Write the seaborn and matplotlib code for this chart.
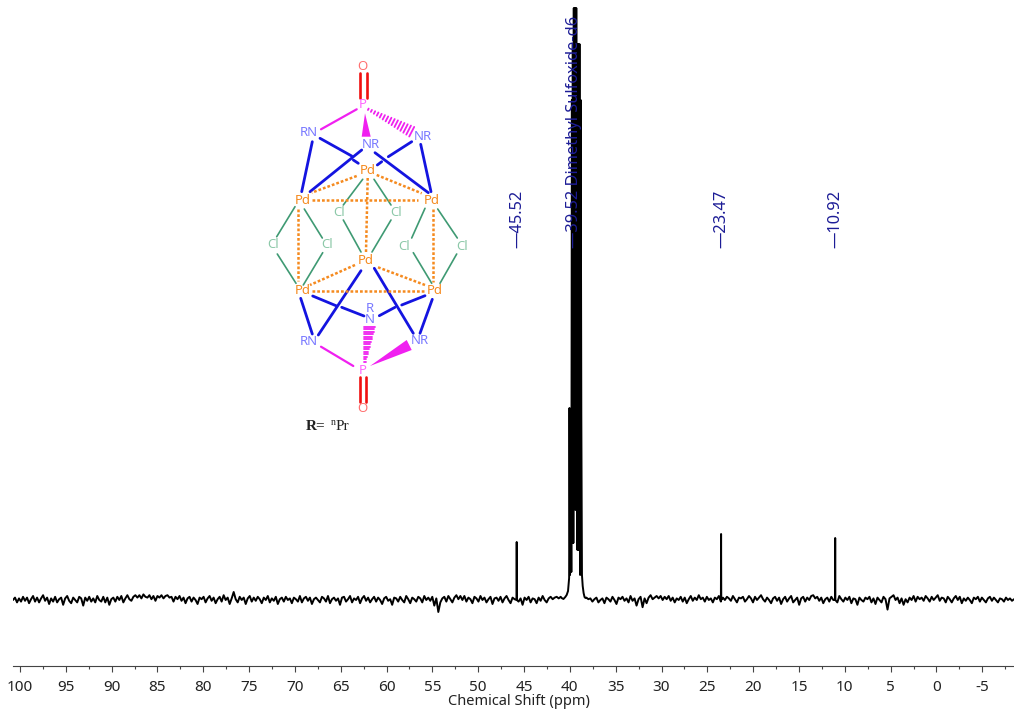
import matplotlib
matplotlib.use("Agg")
import matplotlib.pyplot as plt
import numpy as np
import pandas as pd
import seaborn as sns
from matplotlib.ticker import MultipleLocator

# baseline, 1 unit = 0.8 px
noise_unit = 0.8
left_noise = [
    0, 3, -3, 2, -2, 4, -1, 3, -4, 1, 5, -2, 3, -3, 2, 6, -1, 3, -5, 2,
    -2, 4, -3, 1, 3, -6, 2, 5, -1, -4, 3, 0, -3, 4, 2, -7, 3, -1, 4, -2,
    2, -3, 5, 0, -2, 4, -3, 3, -6, 1, 3, -2, 4, 0, 5, -3, 2, 6, 1, -1,
    4, 6, 3, 6, 2, 7, 4, 3, 6, 1, 5, -1, 5, 3, 6, 2, 5, 6, 3, 4,
    -2, 4, 1, 5, -1, 3, -4, 2, 4, -2, 3, 0, -5, 3, 1, 4, -3, 2, 5, -1,
    3, -4, 1, 4, -2, 6, 0, 3, -5, 2, 10, 1, -3, 4, 0, 3, -5, 2, 5, -2,
    3, -1, 4, 1, -4, 3, 0, 5, -3, 2, -1, 4, -5, 1, 3, -2, 4, 0, 2, -4,
    3, 1, -2, 5, -3, 2, 4, -1, 3, -5, 1, 3, 0, -3, 4, 2, -2, 5, -4, 1,
    3, -1, 2, -6, 3, 4, -2, 1, 5, -3, 2, 0, 4, -4, 2, 5, -1, 3, -3, 1,
    4, -2, 3, 0, -5, 2, 4, -1, 1, -6, 3, 2, -2, 4, 0, -3, 5, 1, -4, 3,
    1, -2, 4, 2, -3, 5, 0, 3, -1, 4, -7, 2, -15, -3, 2, 4, -2, 5, 1, -3,
    3, 6, 1, 5, 0, 5, -2, 3, 1, -4, 4, 2, -2, 5, 0, 3, -3, 1, 4, -5,
    2, 3, -1, 4, -3, 2, 5, 0, -4, 3, 1, 4, -2, 2, -6, 3, 0, 4, -3, 2,
    1, -4, 3, -1, 5, 0, -3, 2, 4, 1, 3, 4, 2, 4,
]
right_noise = [
    3, 1, 2, -2, 1, 3, -3, 0, 2, -4, 3, 1, -2, 4, 0, -5, 3, 1, 4, -1,
    2, -3, 5, -1, 2, -7, 1, 4, -9, 2, -4, 3, 6, 1, 3, 5, 2, 5, 0, 4,
    1, 5, -1, 3, -3, 2, 0, 4, -2, 3, -4, 1, 5, -1, 3, 0, 6, 1, 3, -2,
    4, 0, 2, -3, 3, 1, 5, -2, 3, 0, 4, 2, -1, 5, 1, -3, 3, 2, 4, -2,
    1, 5, 2, -3, 4, 0, 3, 6, 1, -2, 3, 0, -4, 2, 4, -1, 3, -5, 1, 4,
    -2, 2, 5, -3, 0, 3, -6, 2, 4, -2, 3, 0, 5, 6, 2, 4, -1, 3, -4, 1,
    3, -2, 4, 0, 2, -3, 5, 1, -2, 3, 0, 4, -4, 2, 1, -6, 3, 0, -2, 3,
    1, 4, -3, 2, -5, 3, 0, -3, 4, 1, -12, 2, 4, 6, 0, 3, -4, 2, -6, 1,
    -3, 3, 0, 5, -2, 4, 1, 3, -1, 5, 2, -2, 4, 0, 3, 6, -1, 3, 2, -3,
    4, 1, -3, 2, 5, 0, 4, -4, 2, -1, 3, 0, -4, 3, 1, 4, -2, 3, 0, -3,
    2, 4, -1, 3, 0, -3, 2, 1, -2, 3, 0, 2, -1, 1,
]
# DMSO multiplet outline
dmso_ppm = [40.9, 40.7, 40.5, 40.35, 40.2, 40.08, 40.04, 39.98, 39.90, 39.84, 39.78, 39.72,
            39.68, 39.62, 39.57, 39.53, 39.45, 39.38, 39.30, 39.22, 39.17, 39.10, 39.03,
            38.95, 38.88, 38.82, 38.75, 38.68, 38.60, 38.50, 38.40, 38.30]
dmso_int = [2, 1, 3, 5, 9, 22, 192, 25, 190, 28, 500, 57,
            556, 57, 592, 100, 592, 90, 592, 100, 50, 556, 50,
            556, 25, 500, 184, 25, 14, 7, 3, 2]
# small sticks
peak_ppm = [45.8, 23.5, 11.05]
peak_int = [58, 66, 62]
# assignment labels
label_ppm = [45.7, 39.5, 23.5, 10.98]
label_text = ["—45.52", "—39.52 Dimethyl Sulfoxide-d6", "—23.47", "—10.92"]

ppm = list(np.linspace(100.76, 41.0, len(left_noise))) + dmso_ppm + list(np.linspace(38.2, -8.46, len(right_noise)))
intensity = [v * noise_unit for v in left_noise] + dmso_int + [v * noise_unit for v in right_noise]
for p, h in zip(peak_ppm, peak_int):
    ppm += [p + 0.02, p, p - 0.02]
    intensity += [0, h, 0]
df = pd.DataFrame({"ppm": ppm, "intensity": intensity}).sort_values("ppm", ascending=False)

sns.set_style("white")
plt.rcParams["font.family"] = ["Noto Sans", "DejaVu Sans"]

fig = plt.figure(figsize=(10.14, 7.11), dpi=100)
ax = fig.add_axes([13 / 1014, 45 / 711, 1001 / 1014, 666 / 711])
sns.lineplot(data=df, x="ppm", y="intensity", estimator=None, sort=False, color="black", lw=1.4, ax=ax)
ax.set_xlim(100.76, -8.46)
ax.set_ylim(-66, 600)
ax.set_yticks([])
ax.set_ylabel("")
sns.despine(ax=ax, left=True)
ax.spines["bottom"].set_color("#444444")
ax.spines["bottom"].set_linewidth(0.8)
ax.xaxis.set_major_locator(MultipleLocator(5))
ax.xaxis.set_minor_locator(MultipleLocator(2.5))
ax.tick_params(axis="x", which="major", bottom=True, length=4.5, width=0.8, color="#444444", labelsize=11, labelcolor="#222222", pad=5.5)
ax.tick_params(axis="x", which="minor", bottom=True, length=2.2, width=0.8, color="#444444")
ax.set_xticks(np.arange(-5, 101, 5))
ax.set_xticklabels([str(v) for v in np.arange(-5, 101, 5)])
ax.set_xlabel("Chemical Shift (ppm)", fontsize=10.5, color="#222222")
ax.xaxis.set_label_coords((519 - 13) / 1001, -28 / 666)

for p, t in zip(label_ppm, label_text):
    ax.text(p, 352, t, rotation=90, ha="center", va="bottom", color="#1c1c96", fontsize=11.8, zorder=5)

# structure drawn in pixel coordinates
mol = fig.add_axes([0, 0, 1, 1], facecolor="none")
mol.set_xlim(0, 1014)
mol.set_ylim(711, 0)
mol.axis("off")

red = [(360, 73, 360, 97.5), (366.5, 73, 366.5, 97.5), (360, 377, 360, 402), (366, 377, 366, 402)]
pink = [(356.7, 109.3, 321, 129.3), (321, 346.7, 353.3, 366)]
blue = [(312.3, 141.7, 301.7, 191.7), (320, 138.3, 351.7, 156), (353.3, 160, 358.3, 163.3),
        (375, 152.7, 428.3, 192.7), (361.7, 150, 310, 191.7), (411.7, 141.7, 388.3, 156.7),
        (381.7, 161.7, 377.3, 165), (420.7, 144.3, 431, 191.7),
        (300.7, 298.3, 312.3, 334), (361, 270.7, 318.3, 335), (374.3, 268.3, 413.3, 333.3),
        (432.3, 299.3, 420, 333.3), (312.7, 296, 336.7, 306), (341.7, 307.3, 364, 316),
        (425, 295.7, 401.7, 305), (395, 307.3, 379.3, 315.7)]
green = [(362.7, 179.3, 343.3, 205), (374, 179.3, 391, 205), (343.3, 220, 361, 252), (391, 220, 372, 252),
         (295, 206.7, 276.7, 236.7), (304.3, 209, 322.3, 238), (425, 208.3, 411.7, 238), (437.7, 209, 457.3, 238),
         (277.3, 254, 296, 283.3), (322.7, 252.7, 303.3, 285), (413.3, 252.7, 431.7, 283.3), (456.7, 254, 440, 283.3)]
orange = [(356.7, 176, 311.7, 192.7), (376.7, 175, 421.7, 193.3), (311.7, 200, 418.3, 200), (367.7, 178, 366, 252),
          (298.3, 209, 298.3, 281), (432.7, 209, 432.7, 282), (355, 265, 310, 285), (378, 267.3, 425, 285),
          (311.7, 290.7, 425, 290.7)]

for seg in red:
    mol.plot(seg[0::2], seg[1::2], color="#f01010", lw=1.9)
for seg in pink:
    mol.plot(seg[0::2], seg[1::2], color="#f020f0", lw=1.6)
for seg in blue:
    mol.plot(seg[0::2], seg[1::2], color="#1414e0", lw=2.0)
for seg in green:
    mol.plot(seg[0::2], seg[1::2], color="#3f9a73", lw=1.2)
for seg in orange:
    mol.plot(seg[0::2], seg[1::2], color="#f58a1f", lw=1.8, ls=(0, (1.1, 0.8)))

mol.fill([365, 361.7, 370.7], [113.3, 136.7, 136.7], color="#f020f0", lw=0)
mol.fill([370, 406.7, 411.7], [366, 340, 350], color="#f020f0", lw=0)

# hashed wedges
for t in np.linspace(0, 1, 15):
    cx, cy = 368.3 + t * 43.4, 109.3 + t * 22.4
    half = 0.8 + t * 4.6
    mol.plot([cx - 0.46 * half, cx + 0.46 * half], [cy + 0.89 * half, cy - 0.89 * half], color="#f020f0", lw=1.3)
for t in np.linspace(0, 1, 15):
    cx, cy = 365 + t * 4.3, 361.7 - t * 35
    half = 0.8 + t * 4.8
    mol.plot([cx - half, cx + half], [cy, cy], color="#f020f0", lw=1.3)

atom_text = ["O", "P", "RN", "NR", "NR", "O", "P", "RN", "NR", "R", "N",
             "Pd", "Pd", "Pd", "Pd", "Pd", "Pd", "Cl", "Cl", "Cl", "Cl", "Cl", "Cl"]
atom_x = [362, 362.5, 309, 371, 423, 362, 362.7, 309, 420, 370, 370,
          367.7, 302.7, 431.7, 365.7, 302.7, 435, 339, 396, 273.3, 326.7, 404.3, 461.7]
atom_y = [66, 105, 133, 145, 137, 408.5, 370, 341.7, 341, 308.5, 319.5,
          170.7, 200, 200, 261, 290.7, 290.7, 212.7, 212.7, 245, 245, 246.7, 246.7]
atom_color = ["#ff7070", "#ff66ff", "#7a7aff", "#7a7aff", "#7a7aff", "#ff7070", "#ff66ff", "#7a7aff", "#7a7aff", "#7a7aff", "#7a7aff",
              "#f58a1f", "#f58a1f", "#f58a1f", "#f58a1f", "#f58a1f", "#f58a1f",
              "#8cc8a8", "#8cc8a8", "#8cc8a8", "#8cc8a8", "#8cc8a8", "#8cc8a8"]
for s, x, y, c in zip(atom_text, atom_x, atom_y, atom_color):
    mol.text(x, y, s, color=c, fontsize=9.5, ha="center", va="center", zorder=6)

mol.text(306, 426.5, "R=", family="Liberation Serif", weight="bold", fontsize=11, color="#222222", va="center")
mol.text(331, 422.5, "n", family="Liberation Serif", fontsize=7, color="#222222", va="center")
mol.text(336, 426.5, "Pr", family="Liberation Serif", fontsize=11, color="#222222", va="center")

fig.savefig("out.png", dpi=100)
